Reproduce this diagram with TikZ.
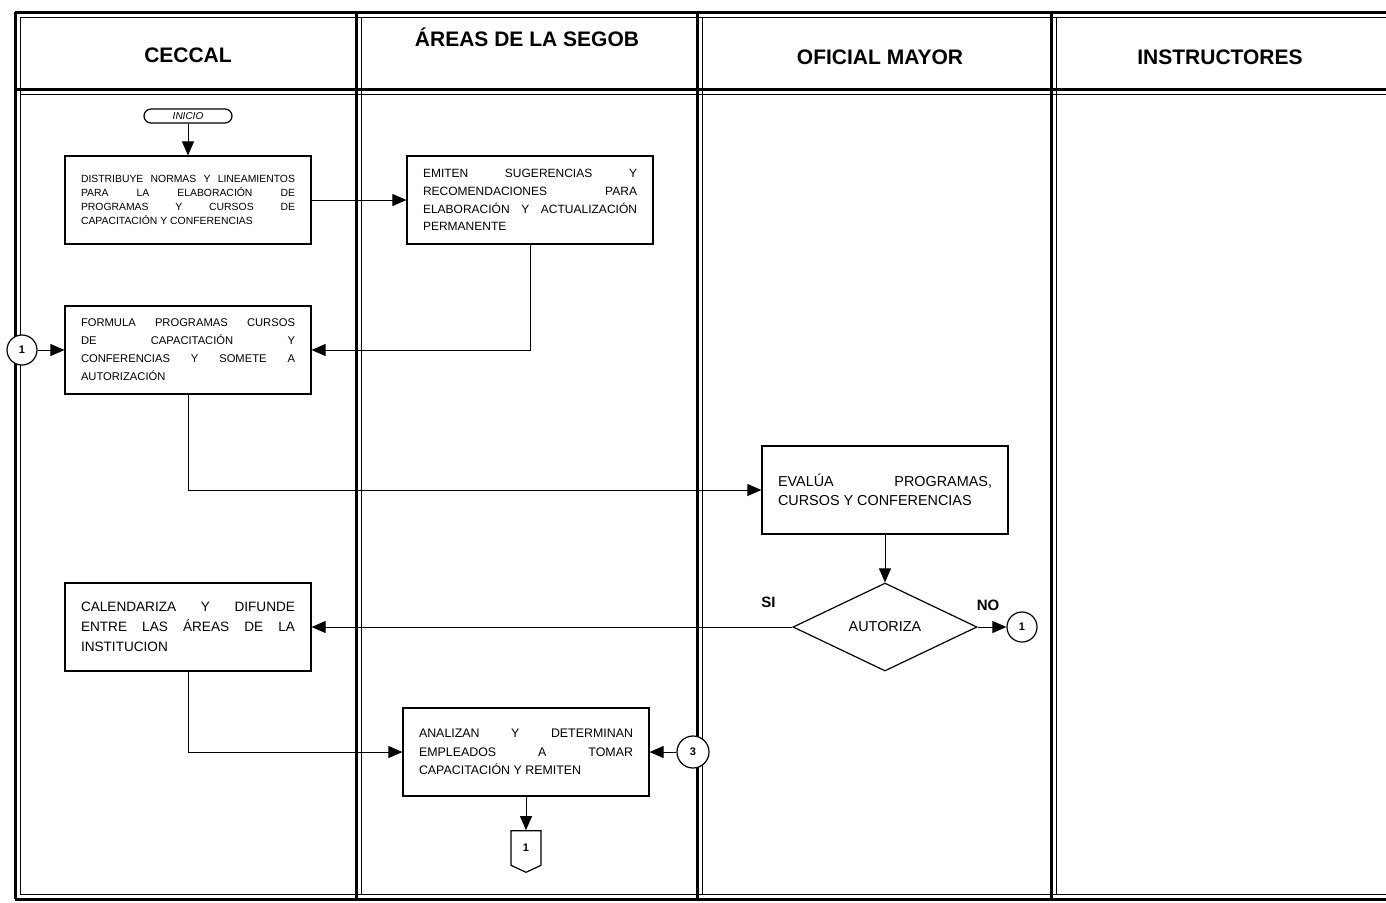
\documentclass[tikz,border=0pt]{standalone}
\usepackage{fontspec}
\setmainfont{Liberation Sans}
\usetikzlibrary{arrows.meta,shapes.geometric,shapes.symbols}

\begin{document}
\begin{tikzpicture}[x=0.5pt,y=-0.5pt,
        ruleouter/.style={line width=1.5pt},
        ruleinner/.style={line width=0.5pt},
        lane/.style={font=\fontsize{10.5}{12}\selectfont\bfseries},
        proc/.style={draw,line width=0.6pt,align=justify,text width=107pt,minimum width=123pt,minimum height=44pt,inner sep=0pt},
        con/.style={draw,fill=white,circle,line width=0.6pt,minimum size=15pt,inner sep=0pt,font=\fontsize{5.5}{6}\selectfont\bfseries},
        flow/.style={line width=0.5pt,-{Triangle[length=7pt,width=6pt]}}]
        %\draw[gray] (0,0) grid[step=100] (1386,902);
        \useasboundingbox (0,0) rectangle (1386,902);

        % carriles
        \draw[ruleouter] (15,12) -- (1386,12) (15,89) -- (1386,89) (15,899) -- (1386,899);
        \draw[ruleouter] (15,12) -- (15,899) (356,12) -- (356,899) (697,12) -- (697,899) (1051,12) -- (1051,899);
        \draw[ruleinner] (20,17) -- (1386,17) (20,94) -- (1386,94) (20,894) -- (1386,894);
        \draw[ruleinner] (20,17) -- (20,894) (361,17) -- (361,894) (702,17) -- (702,894) (1056,17) -- (1056,894);

        \node[lane] (ceccal) at (188,55) {CECCAL};
        \node[lane] (areas) at (527,37) {ÁREAS DE LA SEGOB};
        \node[lane] (oficial) at (880,57) {OFICIAL MAYOR};
        \node[lane] (instr) at (1220,57) {INSTRUCTORES};

        \node[draw,line width=0.6pt,rounded corners=3.5pt,minimum width=44pt,minimum height=7pt,inner sep=0pt,font=\fontsize{5}{6}\selectfont\itshape] (inicio) at (188,116) {INICIO};

        \node[proc,font=\fontsize{5.2}{7}\selectfont] (distr) at (188,200) {DISTRIBUYE NORMAS Y LINEAMIENTOS\linebreak PARA LA ELABORACIÓN DE\linebreak PROGRAMAS Y CURSOS DE\linebreak CAPACITACIÓN Y CONFERENCIAS};
        \node[proc,font=\fontsize{6}{8.8}\selectfont] (emiten) at (530,200) {EMITEN SUGERENCIAS Y\linebreak RECOMENDACIONES PARA\linebreak ELABORACIÓN Y ACTUALIZACIÓN\linebreak PERMANENTE};
        \node[proc,font=\fontsize{5.6}{9}\selectfont] (formula) at (188,350) {FORMULA PROGRAMAS CURSOS\linebreak DE CAPACITACIÓN Y\linebreak CONFERENCIAS Y SOMETE A\linebreak AUTORIZACIÓN};
        \node[proc,font=\fontsize{7.2}{9.5}\selectfont] (evalua) at (885,490) {EVALÚA PROGRAMAS,\linebreak CURSOS Y CONFERENCIAS};
        \node[diamond,draw,line width=0.6pt,aspect=2.1,minimum width=92pt,minimum height=44pt,inner sep=0pt,font=\fontsize{7.2}{8}\selectfont] (autoriza) at (885,627) {AUTORIZA};
        \node[proc,font=\fontsize{6.8}{10}\selectfont] (calend) at (188,627) {CALENDARIZA Y DIFUNDE\linebreak ENTRE LAS ÁREAS DE LA\linebreak INSTITUCION};
        \node[proc,font=\fontsize{6.2}{9.2}\selectfont] (analizan) at (526,752) {ANALIZAN Y DETERMINAN\linebreak EMPLEADOS A TOMAR\linebreak CAPACITACIÓN Y REMITEN};

        \node[con] (uno) at (22,350) {1};
        \node[con] (unob) at (1022,627) {1};
        \node[con,minimum size=16pt] (tres) at (693,752) {3};
        \node[draw,line width=0.6pt,signal,signal to=south,signal from=nowhere,signal pointer angle=130,minimum width=15pt,minimum height=18pt,inner sep=0pt,font=\fontsize{5.5}{6}\selectfont\bfseries] (pagina) at (526,848) {1};

        \draw[flow] (inicio) -- (distr);
        \draw[flow] (distr) -- (emiten);
        \draw[flow] (emiten.south) |- (formula.east);
        \draw[flow] (uno) -- (formula);
        \draw[flow] (formula.south) |- (evalua.west);
        \draw[flow] (evalua) -- (autoriza);
        \draw[flow] (autoriza.west) -- node[pos=0.05,above=6pt,font=\fontsize{7.5}{8}\selectfont\bfseries] {SI} (calend.east);
        \draw[flow] (autoriza.east) -- (unob);
        \node[font=\fontsize{7.5}{8}\selectfont\bfseries] (no) at (988,605) {NO};
        \draw[flow] (calend.south) |- (analizan.west);
        \draw[flow] (tres) -- (analizan);
        \draw[flow] (analizan) -- (pagina);
    \end{tikzpicture}
\end{document}
